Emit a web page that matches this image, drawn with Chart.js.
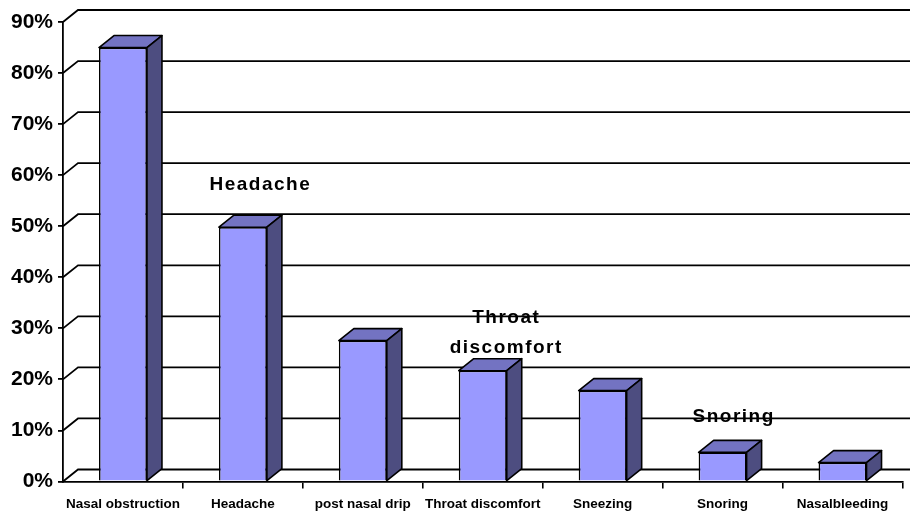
<!DOCTYPE html>
<html>
<head>
<meta charset="utf-8">
<script src="https://cdn.jsdelivr.net/npm/chart.js@4.4.0/dist/chart.umd.min.js"></script>
<style>
    html, body { margin: 0; padding: 0; background: #fff; }
    #wrap { width: 910px; height: 517px; position: relative; }
</style>
</head>
<body>
<div id="wrap"><canvas id="symptomChart"></canvas></div>
<script>
const categories = ['Nasal obstruction', 'Headache', 'post nasal drip', 'Throat discomfort', 'Sneezing', 'Snoring', 'Nasalbleeding'];
const percentValues = [85, 49.8, 27.6, 21.7, 17.8, 5.7, 3.7];
const yTickValues = [0, 10, 20, 30, 40, 50, 60, 70, 80, 90];

// callout texts floating over the chart
const calloutLines = [
    { text: 'Headache', at: 1.146, value: 57.1 },
    { text: 'Throat', at: 3.196, value: 31.0 },
    { text: 'discomfort', at: 3.196, value: 25.2 },
    { text: 'Snoring', at: 5.092, value: 11.65 }
];

const FONT = "'Liberation Sans', Arial, sans-serif";
const DEPTH_X = 15;
const DEPTH_Y = -12;

const wallPlugin = {
    id: 'wall3d',
    beforeDatasetsDraw(chart) {
        const ctx = chart.ctx;
        const y = chart.scales.y;
        const left = chart.chartArea.left;
        ctx.save();
        ctx.strokeStyle = '#000';
        ctx.lineWidth = 1.8;
        ctx.lineJoin = 'miter';
        yTickValues.forEach(v => {
            const py = y.getPixelForValue(v);
            ctx.beginPath();
            ctx.moveTo(left, py);
            ctx.lineTo(left + DEPTH_X, py + DEPTH_Y);
            ctx.lineTo(chart.width + 5, py + DEPTH_Y);
            ctx.stroke();
        });
        ctx.restore();
    },
    afterDatasetsDraw(chart) {
        const ctx = chart.ctx;
        const meta = chart.getDatasetMeta(0);
        ctx.save();
        ctx.strokeStyle = '#000';
        ctx.lineWidth = 1.6;
        ctx.lineJoin = 'round';
        meta.data.forEach(bar => {
            const p = bar.getProps(['x', 'y', 'base', 'width'], true);
            const l = p.x - p.width / 2;
            const r = p.x + p.width / 2;
            // top face
            ctx.beginPath();
            ctx.moveTo(l, p.y);
            ctx.lineTo(l + DEPTH_X, p.y + DEPTH_Y);
            ctx.lineTo(r + DEPTH_X, p.y + DEPTH_Y);
            ctx.lineTo(r, p.y);
            ctx.closePath();
            ctx.fillStyle = '#7373C2';
            ctx.fill();
            ctx.stroke();
            // side face
            ctx.beginPath();
            ctx.moveTo(r, p.y);
            ctx.lineTo(r + DEPTH_X, p.y + DEPTH_Y);
            ctx.lineTo(r + DEPTH_X, p.base + DEPTH_Y);
            ctx.lineTo(r, p.base);
            ctx.closePath();
            ctx.fillStyle = '#4D4D80';
            ctx.fill();
            ctx.stroke();
        });

        // callouts
        const xs = chart.scales.x;
        const ys = chart.scales.y;
        ctx.fillStyle = '#000';
        ctx.font = 'bold 19px ' + FONT;
        ctx.textAlign = 'center';
        ctx.textBaseline = 'alphabetic';
        ctx.letterSpacing = '1.5px';
        calloutLines.forEach(c => {
            ctx.fillText(c.text, xs.getPixelForValue(c.at), ys.getPixelForValue(c.value));
        });
        ctx.restore();
    }
};

new Chart(document.getElementById('symptomChart').getContext('2d'), {
    type: 'bar',
    data: {
        labels: categories,
        datasets: [{
            data: percentValues,
            backgroundColor: '#9999FF',
            borderColor: '#000',
            borderWidth: 1.6,
            categoryPercentage: 1,
            barPercentage: 0.4
        }]
    },
    options: {
        responsive: true,
        maintainAspectRatio: false,
        animation: false,
        layout: { padding: { top: 22, right: 7.5, left: 0, bottom: 0 } },
        plugins: {
            legend: { display: false },
            tooltip: { enabled: false }
        },
        scales: {
            x: {
                offset: true,
                afterFit: s => { s.height = 35.5; },
                grid: {
                    display: true,
                    drawOnChartArea: false,
                    tickLength: 7,
                    lineWidth: 1.6,
                    color: c => c.index === 0 ? 'rgba(0,0,0,0)' : '#000'
                },
                border: { display: true, color: '#000', width: 1.8 },
                ticks: {
                    color: '#000',
                    padding: 8,
                    autoSkip: false,
                    maxRotation: 0,
                    font: { family: FONT, size: 13.5, weight: 'bold' }
                }
            },
            y: {
                min: 0,
                max: 90,
                afterFit: s => { s.width = 63; },
                grid: {
                    display: true,
                    drawOnChartArea: false,
                    tickLength: 5,
                    lineWidth: 1.8,
                    color: '#000'
                },
                border: { display: true, color: '#000', width: 1.8 },
                ticks: {
                    stepSize: 10,
                    color: '#000',
                    padding: 5,
                    font: { family: FONT, size: 21, weight: 'bold' },
                    callback: v => v + '%'
                }
            }
        }
    },
    plugins: [wallPlugin]
});
</script>
</body>
</html>
